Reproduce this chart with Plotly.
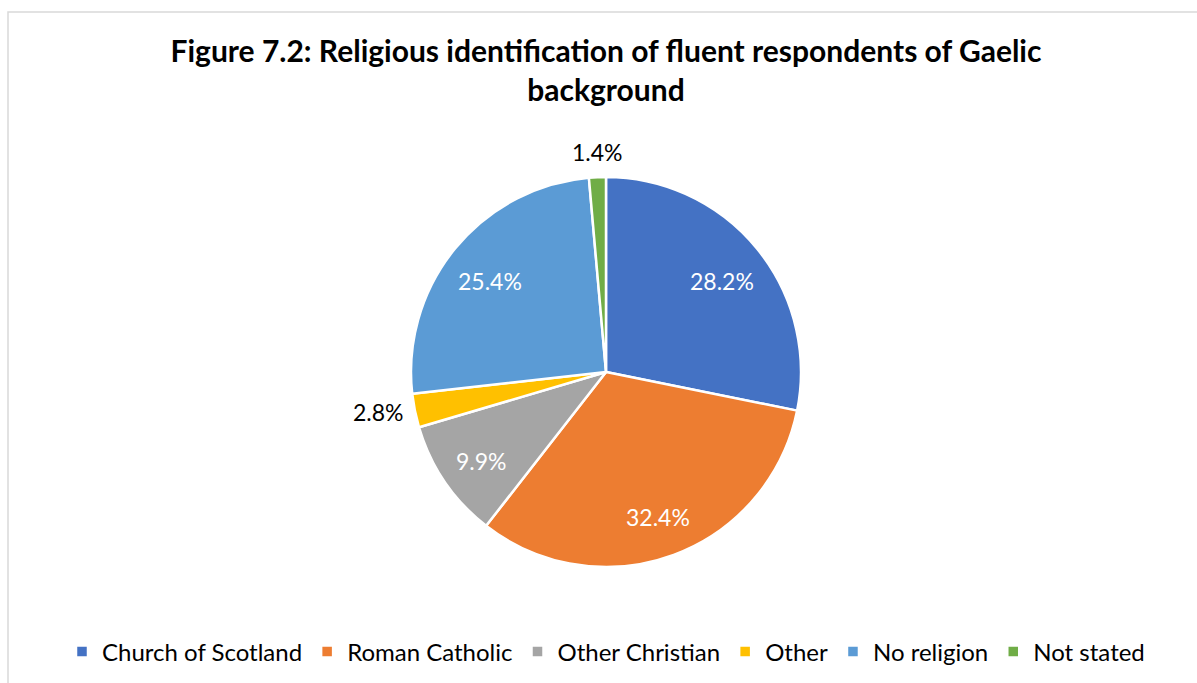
import math
import plotly.graph_objects as go

# Religious identification shares (%)
categories = ["Church of Scotland", "Roman Catholic", "Other Christian",
              "Other", "No religion", "Not stated"]
shares = [28.2, 32.4, 9.9, 2.8, 25.4, 1.4]

colors = ["#4472C4", "#ED7D31", "#A5A5A5", "#FFC000", "#5B9BD5", "#70AD47"]
outside = [False, False, False, True, False, True]

W, H = 1197, 683
FONT = "Lato"
LABEL_SIZE = 23

# Pie placement in pixels (centre and radius), converted to a paper domain
CX, CY, R = 606, 372, 195
dom_x = [(CX - R) / W, (CX + R) / W]
dom_y = [(H - CY - R) / H, (H - CY + R) / H]

fig = go.Figure(go.Pie(
    labels=categories,
    values=shares,
    sort=False,
    direction="clockwise",
    rotation=0,
    marker=dict(colors=colors, line=dict(color="white", width=2.5)),
    textinfo="none",
    hoverinfo="label+percent",
    domain=dict(x=dom_x, y=dom_y),
    showlegend=True,
))

# Data labels: placed along each slice's bisector, computed from the values
total = sum(shares)
annotations = []
cum = 0.0
for val, out in zip(shares, outside):
    mid = (cum + val / 2) / total * 2 * math.pi  # clockwise from 12 o'clock
    cum += val
    sx, sy = math.sin(mid), math.cos(mid)
    if out:
        rr = R + 9
        px, py = CX + rr * sx, CY - rr * sy
        if abs(sx) > abs(sy):
            xa, ya = ("left" if sx > 0 else "right"), "middle"
        else:
            xa, ya = "center", ("bottom" if sy > 0 else "top")
        col = "#000000"
    else:
        rr = 0.77 * R
        px, py = CX + rr * sx, CY - rr * sy + 4
        xa, ya = "center", "middle"
        col = "#FFFFFF"
    annotations.append(dict(
        x=px / W, y=1 - py / H, xref="paper", yref="paper",
        text=f"{val:.1f}%", showarrow=False,
        xanchor=xa, yanchor=ya,
        font=dict(size=LABEL_SIZE, family=FONT, color=col),
    ))

fig.update_layout(
    width=W, height=H,
    margin=dict(l=0, r=0, t=0, b=0),
    paper_bgcolor="white",
    font=dict(family=FONT, color="#000000"),
    title=dict(
        text="<b>Figure 7.2: Religious identification of fluent respondents of Gaelic<br>background</b>",
        x=CX / W, xanchor="center",
        yref="container", y=1 - 62 / H, yanchor="top",
        font=dict(size=30, family=FONT, color="#000000"),
    ),
    legend=dict(
        orientation="h",
        x=CX / W, xanchor="center",
        y=1 - 652 / H, yanchor="middle",
        font=dict(size=24, family=FONT, color="#000000"),
        itemwidth=30,
        traceorder="normal",
    ),
    annotations=annotations,
    shapes=[dict(
        type="rect", xref="paper", yref="paper",
        x0=8 / W, x1=1.05, y0=-0.05, y1=1 - 12 / H,
        line=dict(color="#D9D9D9", width=1.5),
        fillcolor="rgba(0,0,0,0)", layer="below",
    )],
)

fig.write_html("out.html")
